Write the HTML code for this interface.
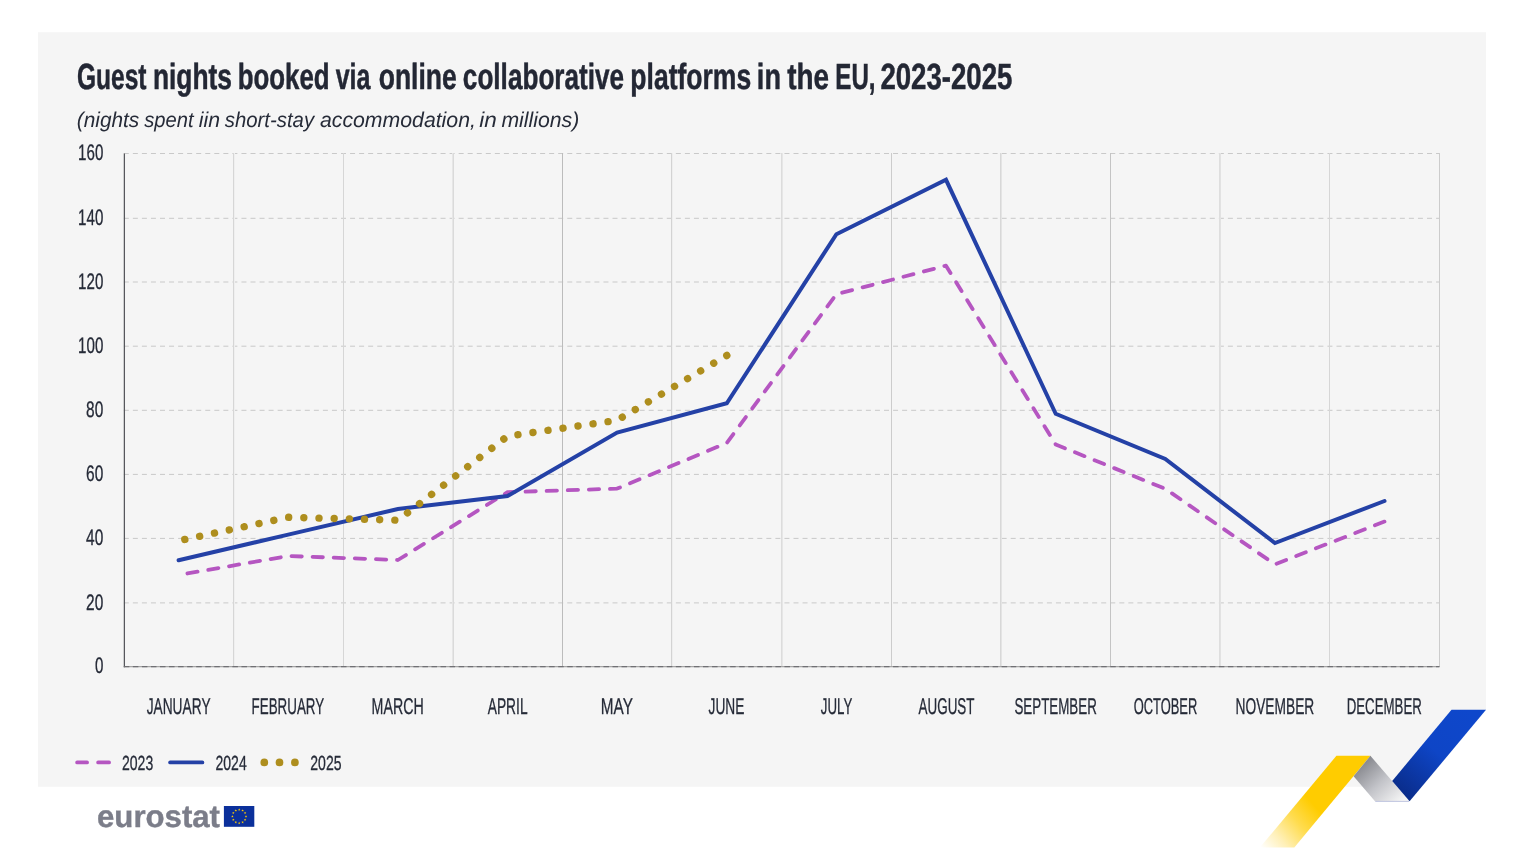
<!DOCTYPE html>
<html><head><meta charset="utf-8"><title>Guest nights booked via online collaborative platforms</title>
<style>
html,body{margin:0;padding:0;background:#fff;}
body{width:1540px;height:860px;overflow:hidden;font-family:"Liberation Sans",sans-serif;}
svg{display:block;will-change:transform}
text{font-family:"Liberation Sans",sans-serif;text-rendering:geometricPrecision;}
</style></head><body>
<svg width="1540" height="860" viewBox="0 0 1540 860">
<defs>
<linearGradient id="gy" x1="1314" y1="805" x2="1262" y2="849" gradientUnits="userSpaceOnUse">
<stop offset="0" stop-color="#ffcc00"/><stop offset="0.35" stop-color="#ffdc4f"/><stop offset="0.7" stop-color="#fff0b8"/><stop offset="1" stop-color="#ffffff"/></linearGradient>
<linearGradient id="gb" x1="1468" y1="710" x2="1401" y2="791" gradientUnits="userSpaceOnUse">
<stop offset="0" stop-color="#0e47cb"/><stop offset="0.5" stop-color="#0e45c6"/><stop offset="1" stop-color="#0a2d8c"/></linearGradient>
<linearGradient id="gg" x1="1362" y1="762" x2="1400" y2="803" gradientUnits="userSpaceOnUse">
<stop offset="0" stop-color="#85868c"/><stop offset="0.5" stop-color="#c3c4c9"/><stop offset="1" stop-color="#f6f6f6"/></linearGradient>
</defs>
<polygon points="38,32.3 1486,32.3 1486,710 1422.1,786.8 38,786.8" fill="#f5f5f5"/>

<g font-size="36.4" font-weight="bold" fill="#232734" stroke="#232734" stroke-width="0.5">
<text x="76.88" y="89.4" textLength="69.59" lengthAdjust="spacingAndGlyphs">Guest</text>
<text x="152.89" y="89.4" textLength="79.14" lengthAdjust="spacingAndGlyphs">nights</text>
<text x="237.78" y="89.4" textLength="91.83" lengthAdjust="spacingAndGlyphs">booked</text>
<text x="335.65" y="89.4" textLength="34.77" lengthAdjust="spacingAndGlyphs">via</text>
<text x="378.74" y="89.4" textLength="78.03" lengthAdjust="spacingAndGlyphs">online</text>
<text x="462.87" y="89.4" textLength="161.23" lengthAdjust="spacingAndGlyphs">collaborative</text>
<text x="630.32" y="89.4" textLength="120.82" lengthAdjust="spacingAndGlyphs">platforms</text>
<text x="756.86" y="89.4" textLength="24.08" lengthAdjust="spacingAndGlyphs">in</text>
<text x="787.29" y="89.4" textLength="41.84" lengthAdjust="spacingAndGlyphs">the</text>
<text x="835.35" y="89.4" textLength="40.22" lengthAdjust="spacingAndGlyphs">EU,</text>
<text x="880.41" y="89.4" textLength="131.98" lengthAdjust="spacingAndGlyphs">2023-2025</text>
</g>
<g font-size="21.3" font-style="italic" fill="#262b38">
<text x="76.73" y="127.1" textLength="62.56" lengthAdjust="spacingAndGlyphs">(nights</text>
<text x="144.25" y="127.1" textLength="49.35" lengthAdjust="spacingAndGlyphs">spent</text>
<text x="198.71" y="127.1" textLength="21.27" lengthAdjust="spacingAndGlyphs">iin</text>
<text x="224.82" y="127.1" textLength="89.27" lengthAdjust="spacingAndGlyphs">short-stay</text>
<text x="319.96" y="127.1" textLength="155.94" lengthAdjust="spacingAndGlyphs">accommodation,</text>
<text x="479.36" y="127.1" textLength="17.55" lengthAdjust="spacingAndGlyphs">in</text>
<text x="501.39" y="127.1" textLength="77.9" lengthAdjust="spacingAndGlyphs">millions)</text>
</g>
<rect x="125" y="154" width="1" height="512" fill="#fcfcfc" shape-rendering="crispEdges"/>
<line x1="123.8" x2="1439.4" y1="602.90" y2="602.90" stroke="#c9c9c9" stroke-width="1" stroke-dasharray="5 4.05"/>
<line x1="123.8" x2="1439.4" y1="538.40" y2="538.40" stroke="#c9c9c9" stroke-width="1" stroke-dasharray="5 4.05"/>
<line x1="123.8" x2="1439.4" y1="474.40" y2="474.40" stroke="#c9c9c9" stroke-width="1" stroke-dasharray="5 4.05"/>
<line x1="123.8" x2="1439.4" y1="410.30" y2="410.30" stroke="#c9c9c9" stroke-width="1" stroke-dasharray="5 4.05"/>
<line x1="123.8" x2="1439.4" y1="346.20" y2="346.20" stroke="#c9c9c9" stroke-width="1" stroke-dasharray="5 4.05"/>
<line x1="123.8" x2="1439.4" y1="282.00" y2="282.00" stroke="#c9c9c9" stroke-width="1" stroke-dasharray="5 4.05"/>
<line x1="123.8" x2="1439.4" y1="218.30" y2="218.30" stroke="#c9c9c9" stroke-width="1" stroke-dasharray="5 4.05"/>
<line x1="123.8" x2="1439.4" y1="153.50" y2="153.50" stroke="#c9c9c9" stroke-width="1" stroke-dasharray="5 4.05"/>
<g shape-rendering="crispEdges">
<rect x="233" y="153" width="1" height="514" fill="#d6d6d6"/>
<rect x="234" y="153" width="1" height="514" fill="#efefef"/>
<rect x="343" y="153" width="1" height="514" fill="#d6d6d6"/>
<rect x="452" y="153" width="1" height="514" fill="#e6e6e6"/>
<rect x="453" y="153" width="1" height="514" fill="#dadada"/>
<rect x="562" y="153" width="1" height="514" fill="#bcbcbc"/>
<rect x="671" y="153" width="1" height="514" fill="#d3d3d3"/>
<rect x="672" y="153" width="1" height="514" fill="#eeeeee"/>
<rect x="781" y="153" width="1" height="514" fill="#dcdcdc"/>
<rect x="782" y="153" width="1" height="514" fill="#e6e6e6"/>
<rect x="891" y="153" width="1" height="514" fill="#cccccc"/>
<rect x="1000" y="153" width="1" height="514" fill="#d8d8d8"/>
<rect x="1001" y="153" width="1" height="514" fill="#e4e4e4"/>
<rect x="1110" y="153" width="1" height="514" fill="#c4c4c4"/>
<rect x="1219" y="153" width="1" height="514" fill="#dedede"/>
<rect x="1220" y="153" width="1" height="514" fill="#e2e2e2"/>
<rect x="1329" y="153" width="1" height="514" fill="#d6d6d6"/>
<rect x="1439" y="153" width="1" height="514" fill="#cccccc"/>
</g>
<line x1="124.4" x2="124.4" y1="153.5" y2="667.2" stroke="#56575c" stroke-width="1.3"/>
<line x1="123.8" x2="1439.4" y1="666.60" y2="666.60" stroke="#a4a4a4" stroke-width="1.2"/>
<line x1="123.8" x2="1439.4" y1="666.60" y2="666.60" stroke="#707074" stroke-width="1.2" stroke-dasharray="5.5 3.55"/>
<text x="94.9" y="673.2" font-size="22.4" fill="#262b38" stroke="#262b38" stroke-width="0.3" textLength="8.4" lengthAdjust="spacingAndGlyphs">0</text>
<text x="86.1" y="609.5" font-size="22.4" fill="#262b38" stroke="#262b38" stroke-width="0.3" textLength="17.2" lengthAdjust="spacingAndGlyphs">20</text>
<text x="86.1" y="545.0" font-size="22.4" fill="#262b38" stroke="#262b38" stroke-width="0.3" textLength="17.2" lengthAdjust="spacingAndGlyphs">40</text>
<text x="86.1" y="481.0" font-size="22.4" fill="#262b38" stroke="#262b38" stroke-width="0.3" textLength="17.2" lengthAdjust="spacingAndGlyphs">60</text>
<text x="86.1" y="416.9" font-size="22.4" fill="#262b38" stroke="#262b38" stroke-width="0.3" textLength="17.2" lengthAdjust="spacingAndGlyphs">80</text>
<text x="78.1" y="352.8" font-size="22.4" fill="#262b38" stroke="#262b38" stroke-width="0.3" textLength="25.2" lengthAdjust="spacingAndGlyphs">100</text>
<text x="78.1" y="288.6" font-size="22.4" fill="#262b38" stroke="#262b38" stroke-width="0.3" textLength="25.2" lengthAdjust="spacingAndGlyphs">120</text>
<text x="78.1" y="224.9" font-size="22.4" fill="#262b38" stroke="#262b38" stroke-width="0.3" textLength="25.2" lengthAdjust="spacingAndGlyphs">140</text>
<text x="78.1" y="160.1" font-size="22.4" fill="#262b38" stroke="#262b38" stroke-width="0.3" textLength="25.2" lengthAdjust="spacingAndGlyphs">160</text>
<g font-size="22.8" fill="#262b38" stroke="#262b38" stroke-width="0.3">
<text x="146.67" y="714" textLength="63.9" lengthAdjust="spacingAndGlyphs">JANUARY</text>
<text x="251.59" y="714" textLength="72.61" lengthAdjust="spacingAndGlyphs">FEBRUARY</text>
<text x="371.56" y="714" textLength="52.18" lengthAdjust="spacingAndGlyphs">MARCH</text>
<text x="487.69" y="714" textLength="39.86" lengthAdjust="spacingAndGlyphs">APRIL</text>
<text x="600.85" y="714" textLength="32.02" lengthAdjust="spacingAndGlyphs">MAY</text>
<text x="708.62" y="714" textLength="35.8" lengthAdjust="spacingAndGlyphs">JUNE</text>
<text x="820.85" y="714" textLength="31.49" lengthAdjust="spacingAndGlyphs">JULY</text>
<text x="918.56" y="714" textLength="55.93" lengthAdjust="spacingAndGlyphs">AUGUST</text>
<text x="1014.44" y="714" textLength="82.34" lengthAdjust="spacingAndGlyphs">SEPTEMBER</text>
<text x="1133.63" y="714" textLength="63.6" lengthAdjust="spacingAndGlyphs">OCTOBER</text>
<text x="1235.5" y="714" textLength="78.77" lengthAdjust="spacingAndGlyphs">NOVEMBER</text>
<text x="1346.67" y="714" textLength="75.26" lengthAdjust="spacingAndGlyphs">DECEMBER</text>
</g>
<polyline points="1384.5,521.6 1274.9,564.3 1165.3,488.8 1055.7,444.5 946.0,265.7 836.4,294.2 726.8,443.0 617.1,488.6 507.5,492.2 397.9,560.0 288.2,556.0 178.6,575.0" fill="none" stroke="#b556c1" stroke-width="3.8" stroke-linecap="round" stroke-linejoin="round" stroke-dasharray="10.3 10.815"/>
<polyline points="178.6,560.3 288.2,534.6 397.9,509.0 507.5,496.0 617.1,432.6 726.8,403.3 836.4,234.2 946.0,179.8 1055.7,413.8 1165.3,459.0 1274.9,543.0 1384.5,501.0" fill="none" stroke="#2441a6" stroke-width="4" stroke-linecap="round" stroke-linejoin="miter"/>
<polyline points="726.8,355.5 617.1,420.3 507.5,436.2 397.9,520.2 288.2,517.3 178.6,540.8" fill="none" stroke="#ae8e1e" stroke-width="7.4" stroke-linecap="round" stroke-linejoin="round" stroke-dasharray="0.01 15.162"/>
<path d="M77.1 762.4H87.1M98.1 762.4H109.1" stroke="#b556c1" stroke-width="3.7" stroke-linecap="round" fill="none"/>
<path d="M170.1 762.4H202.4" stroke="#2441a6" stroke-width="3.7" stroke-linecap="round" fill="none"/>
<circle cx="264.3" cy="762.4" r="3.85" fill="#ae8e1e"/>
<circle cx="279.5" cy="762.4" r="3.85" fill="#ae8e1e"/>
<circle cx="294.9" cy="762.4" r="3.85" fill="#ae8e1e"/>
<text x="122" y="769.9" font-size="20.4" fill="#262b38" stroke="#262b38" stroke-width="0.3" textLength="31.2" lengthAdjust="spacingAndGlyphs">2023</text>
<text x="215.5" y="769.9" font-size="20.4" fill="#262b38" stroke="#262b38" stroke-width="0.3" textLength="31.2" lengthAdjust="spacingAndGlyphs">2024</text>
<text x="310.3" y="769.9" font-size="20.4" fill="#262b38" stroke="#262b38" stroke-width="0.3" textLength="31.2" lengthAdjust="spacingAndGlyphs">2025</text>
<polygon points="1336.4,755.8 1370.4,755.8 1294.3,847.6 1259.8,847.6" fill="url(#gy)"/>
<polygon points="1370.4,755.8 1353.6,776.2 1375,801.3 1409.6,801.3" fill="url(#gg)"/>
<line x1="1375.3" x2="1409" y1="801.4" y2="801.4" stroke="#b9bfdc" stroke-width="0.9"/>
<polygon points="1451.5,709.8 1486,709.8 1409.6,801.3 1392.2,780.9" fill="url(#gb)"/>
<text x="97" y="827" font-size="31" font-weight="bold" fill="#7b7d89" stroke="#7b7d89" stroke-width="0.4" textLength="123" lengthAdjust="spacingAndGlyphs">eurostat</text>
<rect x="223.9" y="806" width="30.4" height="20.8" fill="#0b309b"/>
<polygon points="239.20,808.25 239.52,809.16 240.48,809.18 239.72,809.77 239.99,810.69 239.20,810.15 238.41,810.69 238.68,809.77 237.92,809.18 238.88,809.16" fill="#ffcc00"/>
<polygon points="242.60,809.16 242.92,810.07 243.88,810.09 243.12,810.68 243.39,811.60 242.60,811.06 241.81,811.60 242.08,810.68 241.32,810.09 242.28,810.07" fill="#ffcc00"/>
<polygon points="245.09,811.65 245.41,812.56 246.37,812.58 245.61,813.17 245.88,814.09 245.09,813.55 244.30,814.09 244.57,813.17 243.81,812.58 244.77,812.56" fill="#ffcc00"/>
<polygon points="246.00,815.05 246.32,815.96 247.28,815.98 246.52,816.57 246.79,817.49 246.00,816.95 245.21,817.49 245.48,816.57 244.72,815.98 245.68,815.96" fill="#ffcc00"/>
<polygon points="245.09,818.45 245.41,819.36 246.37,819.38 245.61,819.97 245.88,820.89 245.09,820.35 244.30,820.89 244.57,819.97 243.81,819.38 244.77,819.36" fill="#ffcc00"/>
<polygon points="242.60,820.94 242.92,821.84 243.88,821.87 243.12,822.46 243.39,823.38 242.60,822.84 241.81,823.38 242.08,822.46 241.32,821.87 242.28,821.84" fill="#ffcc00"/>
<polygon points="239.20,821.85 239.52,822.76 240.48,822.78 239.72,823.37 239.99,824.29 239.20,823.75 238.41,824.29 238.68,823.37 237.92,822.78 238.88,822.76" fill="#ffcc00"/>
<polygon points="235.80,820.94 236.12,821.84 237.08,821.87 236.32,822.46 236.59,823.38 235.80,822.84 235.01,823.38 235.28,822.46 234.52,821.87 235.48,821.84" fill="#ffcc00"/>
<polygon points="233.31,818.45 233.63,819.36 234.59,819.38 233.83,819.97 234.10,820.89 233.31,820.35 232.52,820.89 232.79,819.97 232.03,819.38 232.99,819.36" fill="#ffcc00"/>
<polygon points="232.40,815.05 232.72,815.96 233.68,815.98 232.92,816.57 233.19,817.49 232.40,816.95 231.61,817.49 231.88,816.57 231.12,815.98 232.08,815.96" fill="#ffcc00"/>
<polygon points="233.31,811.65 233.63,812.56 234.59,812.58 233.83,813.17 234.10,814.09 233.31,813.55 232.52,814.09 232.79,813.17 232.03,812.58 232.99,812.56" fill="#ffcc00"/>
<polygon points="235.80,809.16 236.12,810.07 237.08,810.09 236.32,810.68 236.59,811.60 235.80,811.06 235.01,811.60 235.28,810.68 234.52,810.09 235.48,810.07" fill="#ffcc00"/>
</svg></body></html>
